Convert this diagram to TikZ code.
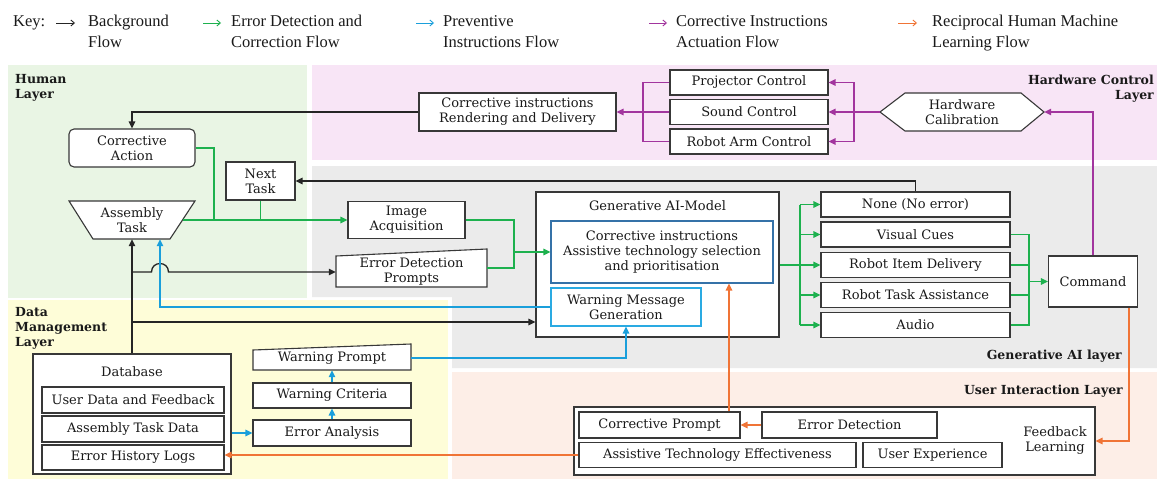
\documentclass[tikz,border=0pt]{standalone}
\usepackage{fontspec}
\setmainfont{DejaVu Serif}
\newfontfamily\keyfam{Liberation Serif}
\usetikzlibrary{arrows.meta,calc}
\definecolor{bggreen}{HTML}{E9F5E4}
\definecolor{bgpink}{HTML}{F8E5F6}
\definecolor{bggrey}{HTML}{EBEBEB}
\definecolor{bgyellow}{HTML}{FEFDD8}
\definecolor{bgpeach}{HTML}{FDEEE7}
\definecolor{blkc}{HTML}{252525}
\definecolor{boxc}{HTML}{383838}
\definecolor{grnc}{HTML}{1DB14E}
\definecolor{bluc}{HTML}{1A9FDB}
\definecolor{purc}{HTML}{A2359E}
\definecolor{orgc}{HTML}{F07436}
\definecolor{cic}{HTML}{3572A8}
\definecolor{wmc}{HTML}{2AAAE2}
\definecolor{txtc}{HTML}{1A1A1A}
\newcommand\boxfnt{\fontsize{13}{15}\selectfont}
\newcommand\labfnt{\fontsize{12.5}{15}\selectfont\bfseries}
\newcommand\keyfnt{\keyfam\fontsize{16.5}{21}\selectfont}
\tikzset{
  sz/.style 2 args={minimum width=#1pt, minimum height=#2pt},
  box/.style={draw=boxc, fill=white, line width=1.1pt, align=center, inner sep=0pt, font=\boxfnt, text=txtc},
  txt/.style={align=center, inner sep=0pt, font=\boxfnt, text=txtc},
  shp/.style={draw=boxc, fill=white, line width=1.1pt},
  lay/.style={font=\labfnt, inner sep=0pt, text=txtc},
  keyt/.style={font=\keyfnt, inner sep=0pt, anchor=base west, text=txtc},
  arr/.style={-{Triangle[length=7pt,width=6.5pt]}},
  karr/.style={line width=0.9pt, -{Straight Barb[length=3.5pt,width=6pt]}},
  blk/.style={draw=blkc, line width=1.3pt},
  grn/.style={draw=grnc, line width=1.3pt},
  blu/.style={draw=bluc, line width=1.3pt},
  pur/.style={draw=purc, line width=1.3pt},
  org/.style={draw=orgc, line width=1.3pt},
}
\begin{document}
\begin{tikzpicture}[x=1pt,y=-1pt]
\useasboundingbox (0,0) rectangle (1157,479);
\fill[white] (0,0) rectangle (1157,479);
% ---------- key ----------
\node[keyt] (kk) at (13,26) {Key:};
\coordinate (k1s) at (56,23); \coordinate (k1e) at (75,23);
\coordinate (k2s) at (203,23); \coordinate (k2e) at (221,23);
\coordinate (k3s) at (416,23); \coordinate (k3e) at (434,23);
\coordinate (k4s) at (649,23); \coordinate (k4e) at (667,23);
\coordinate (k5s) at (898,23); \coordinate (k5e) at (917,23);
\draw[karr,draw=blkc] (k1s) -- (k1e);
\draw[karr,draw=grnc] (k2s) -- (k2e);
\draw[karr,draw=bluc] (k3s) -- (k3e);
\draw[karr,draw=purc] (k4s) -- (k4e);
\draw[karr,draw=orgc] (k5s) -- (k5e);
\node[keyt] (k1a) at (88,26) {Background};
\node[keyt] (k1b) at (88,47) {Flow};
\node[keyt] (k2a) at (231,26) {Error Detection and};
\node[keyt] (k2b) at (231,47) {Correction Flow};
\node[keyt] (k3a) at (443,26) {Preventive};
\node[keyt] (k3b) at (443,47) {Instructions Flow};
\node[keyt] (k4a) at (676,26) {Corrective Instructions};
\node[keyt] (k4b) at (676,47) {Actuation Flow};
\node[keyt] (k5a) at (932,26) {Reciprocal Human Machine};
\node[keyt] (k5b) at (932,47) {Learning Flow};
% ---------- layers ----------
\fill[bggreen] (8,65) rectangle (307,298);
\fill[bgpink] (312,65) rectangle (1157,160);
\fill[bggrey] (312,166) -- (1157,166) -- (1157,368) -- (452,368) -- (452,297) -- (312,297) -- cycle;
\fill[bgyellow] (8,300) rectangle (448,479);
\fill[bgpeach] (452,372) rectangle (1157,479);
\node[lay, align=left, anchor=north west] (lh) at (15,74.5) {Human\\Layer};
\node[lay, align=right, anchor=north east] (lhw) at (1154,74.5) {Hardware Control\\Layer};
\node[lay, anchor=base east] (lg) at (1122,359.5) {Generative AI layer};
\node[lay, anchor=base east] (lu) at (1123,394.5) {User Interaction Layer};
\node[lay, align=left, anchor=north west] (ld) at (15,307.3) {Data\\Management\\Layer};
% ---------- human layer ----------
\node[box, rounded corners=5pt, sz={126}{38}] (ca) at (132,148) {Corrective\\Action};
\node[box, sz={69}{38}] (nt) at (260.5,181) {Next\\Task};
\draw[shp] (69,201) -- (195,201) -- (170,239) -- (93,239) -- cycle;
\node[txt, sz={126}{38}] (at) at (132,220) {Assembly\\Task};
% ---------- generative AI left ----------
\node[box, sz={117}{37}] (ia) at (406.5,220) {Image\\Acquisition};
\draw[shp] (336,256) -- (487,249) -- (487,287) -- (336,287) -- cycle;
\node[txt, sz={151}{31}] (edp) at (411.5,272) {Error Detection\\Prompts};
% ---------- hardware layer ----------
\node[box, sz={197}{38}] (rend) at (517.5,112) {Corrective instructions\\Rendering and Delivery};
\node[box, sz={158}{25}] (pc) at (749,82.5) {Projector Control};
\node[box, sz={158}{25}] (sc) at (749,112) {Sound Control};
\node[box, sz={158}{25}] (rac) at (749,141.5) {Robot Arm Control};
\draw[shp] (880,112) -- (905,93) -- (1021,93) -- (1044,112) -- (1021,131) -- (905,131) -- cycle;
\node[txt, sz={164}{38}] (hc) at (962,112) {Hardware\\Calibration};
% ---------- generative AI model ----------
\node[box, sz={243}{145}] (genai) at (657.5,264.5) {};
\node[txt] (gt) at (657.5,206) {Generative AI-Model};
\node[box, draw=cic, sz={222}{62}] (ci) at (662,252) {Corrective instructions\\Assistive technology selection\\and prioritisation};
\node[box, draw=wmc, sz={150}{38}] (wm) at (626,307) {Warning Message\\Generation};
\node[box, sz={189}{25}] (o1) at (915.5,204.5) {None (No error)};
\node[box, sz={189}{25}] (o2) at (915.5,234.5) {Visual Cues};
\node[box, sz={189}{25}] (o3) at (915.5,265) {Robot Item Delivery};
\node[box, sz={189}{25}] (o4) at (915.5,295) {Robot Task Assistance};
\node[box, sz={189}{25}] (o5) at (915.5,325) {Audio};
\node[box, sz={89}{51}] (cmd) at (1093,281.5) {Command};
% ---------- user interaction ----------
\node[box, sz={521}{68}] (ui) at (834.5,441) {};
\node[box, sz={161}{26}] (cp) at (659.5,425) {Corrective Prompt};
\node[box, sz={175}{26}] (ed) at (849.5,425) {Error Detection};
\node[box, sz={277}{25}] (ate) at (717.5,455) {Assistive Technology Effectiveness};
\node[box, sz={139}{25}] (ux) at (932.5,455) {User Experience};
\node[txt] (fl) at (1055,441) {Feedback\\Learning};
% ---------- data management ----------
\node[box, sz={198}{120}] (db) at (132,414) {};
\node[txt] (dbt) at (132,372) {Database};
\node[box, sz={182}{26}] (udf) at (133,400) {User Data and Feedback};
\node[box, sz={182}{26}] (atd) at (133,429) {Assembly Task Data};
\node[box, sz={182}{25}] (ehl) at (133,457.5) {Error History Logs};
\draw[shp] (253,350) -- (411,344) -- (411,370) -- (253,370) -- cycle;
\node[txt, sz={158}{24}] (wp) at (332,358) {Warning Prompt};
\node[box, sz={158}{25}] (wc) at (332,395.5) {Warning Criteria};
\node[box, sz={158}{26}] (ea) at (332,433) {Error Analysis};
% ---------- helper coordinates ----------
\coordinate (atE) at ([xshift=50.5pt]at.center);
\coordinate (atB) at ([xshift=28pt]at.south);
\coordinate (gj1) at (214,220);
\coordinate (gj3) at (514,252);
\coordinate (gb) at (800,265);
\coordinate (rb) at (1029,281.5);
\coordinate (pj) at (854,112);
\coordinate (pl) at (643,112);
\coordinate (hop) at (160,272);
\coordinate (bj) at (132,322);
% ---------- black connectors ----------
\draw[blk, arr] (rend.west) -| (ca.north);
\draw[blk, arr] (o1.north) |- (nt.east);
\draw[blk, arr] (db.north) -- (at.south);
\draw[blk, arr] (db.north |- edp.west) -- ([xshift=-8.5pt]hop)
  .. controls ([xshift=-8.5pt,yshift=11.3pt]hop) and ([xshift=8.5pt,yshift=11.3pt]hop) .. ([xshift=8.5pt]hop)
  -- (edp.west);
\draw[blk, arr] (bj) -- (bj -| genai.west);
% ---------- green connectors ----------
\draw[grn] (ca.east) -| (gj1);
\draw[grn] (nt.south) -- (nt.south |- ia.west);
\draw[grn, arr] (atE) -- (ia.west);
\draw[grn] (ia.east) -| (gj3);
\draw[grn] ([yshift=4pt]edp.east) -| (gj3);
\draw[grn, arr] (gj3) -- (ci.west);
\draw[grn] (genai.east |- gb) -- (gb);
\draw[grn] (gb |- o1.west) -- (gb |- o5.west);
\draw[grn, arr] (gb |- o1.west) -- (o1.west);
\draw[grn, arr] (gb |- o2.west) -- (o2.west);
\draw[grn, arr] (gb |- o3.west) -- (o3.west);
\draw[grn, arr] (gb |- o4.west) -- (o4.west);
\draw[grn, arr] (gb |- o5.west) -- (o5.west);
\draw[grn] (o2.east) -| (rb);
\draw[grn] (o5.east) -| (rb);
\draw[grn] (o3.east) -- (o3.east -| rb);
\draw[grn] (o4.east) -- (o4.east -| rb);
\draw[grn, arr] (rb) -- (cmd.west);
% ---------- blue connectors ----------
\draw[blu, arr] (wm.west) -| (atB);
\draw[blu, arr] (wp.east) -| (wm.south);
\draw[blu, arr] (ea.north) -- (wc.south);
\draw[blu, arr] (wc.north) -- (wp.south);
\draw[blu, arr] (db.east |- ea.west) -- (ea.west);
% ---------- purple connectors ----------
\draw[pur, arr] (cmd.north) |- (hc.east);
\draw[pur, arr] (hc.west) -- (sc.east);
\draw[pur, arr] (pj) |- (pc.east);
\draw[pur, arr] (pj) |- (rac.east);
\draw[pur, arr] (sc.west) -- (rend.east);
\draw[pur] (pc.west) -| (pl) |- (rac.west);
% ---------- orange connectors ----------
\draw[org, arr] ([xshift=36pt]cmd.south) |- (ui.east);
\draw[org, arr] (ed.west) -- (cp.east);
\draw[org, arr] ([xshift=69.5pt]cp.north) -- ([xshift=67pt]ci.south);
\draw[org, arr] (ate.west) -- (ate.west -| ehl.east);
\end{tikzpicture}
\end{document}
